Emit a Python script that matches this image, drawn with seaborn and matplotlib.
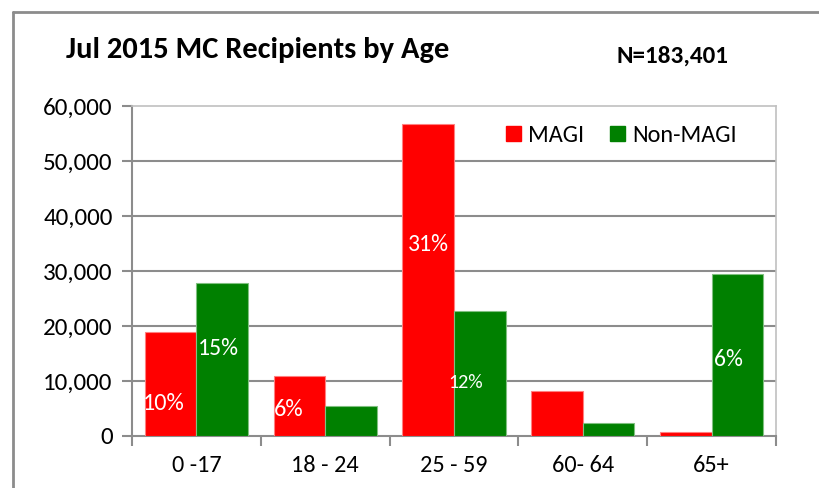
import matplotlib
matplotlib.use("Agg")
import matplotlib.pyplot as plt
import matplotlib.colors as mcolors
from matplotlib.lines import Line2D
from matplotlib.ticker import FuncFormatter, FixedLocator
import seaborn as sns
import pandas as pd

# ---- data ----
age_groups = ["0 -17", "18 - 24", "25 - 59", "60- 64", "65+"]
series_names = ["MAGI", "Non-MAGI"]
magi = [19000, 10900, 56700, 8100, 700]
non_magi = [27800, 5450, 22700, 2350, 29400]
title = "Jul 2015 MC Recipients by Age"
n_text = "N=183,401"
y_ticks = [0, 10000, 20000, 30000, 40000, 50000, 60000]

# percentage labels: (text, category index, series)
pct_labels = [("10%", 0, "MAGI"), ("15%", 0, "Non-MAGI"), ("6%", 1, "MAGI"),
              ("31%", 2, "MAGI"), ("12%", 2, "Non-MAGI"), ("6%", 4, "Non-MAGI")]
# label placement (layout only): x shift from bar center (category units), y position
pct_dx = [-0.052, -0.032, -0.081, 0.0, -0.107, -0.073]
pct_y = [6000, 15870, 4730, 34900, 9640, 13820]
pct_size = [17.5, 17, 17.5, 17, 14.5, 17]

colors = {"MAGI": "#FF0000", "Non-MAGI": "#008000"}

df = pd.DataFrame({
    "age": age_groups * 2,
    "series": [series_names[0]] * len(age_groups) + [series_names[1]] * len(age_groups),
    "count": magi + non_magi,
})

sns.set_theme(style="white")
plt.rcParams["font.family"] = ["Carlito", "Open Sans", "DejaVu Sans"]
plt.rcParams["text.color"] = "black"
plt.rcParams["xtick.labelcolor"] = "black"
plt.rcParams["ytick.labelcolor"] = "black"

fig = plt.figure(figsize=(8.2, 4.88), dpi=100)
ax = fig.add_axes([132 / 820, 52 / 488, 644 / 820, 330 / 488])

sns.barplot(data=df, x="age", y="count", hue="series", order=age_groups,
            hue_order=series_names, palette=colors, width=0.8, ax=ax,
            saturation=1, legend=False, zorder=3)

for p in ax.patches:
    fc = mcolors.to_rgb(p.get_facecolor())
    light = tuple(c + (1 - c) * 0.5 for c in fc)
    p.set_edgecolor(light)
    p.set_linewidth(0.8)

ax.set_ylim(0, 60000)
ax.set_xlim(-0.5, len(age_groups) - 0.5)
ax.yaxis.set_major_locator(FixedLocator(y_ticks))
ax.yaxis.set_major_formatter(FuncFormatter(lambda v, _: f"{int(v):,}"))
ax.set_xlabel("")
ax.set_ylabel("")

for v in y_ticks[1:-1]:
    ax.axhline(v, color="#8c8c8c", lw=1.5, zorder=1)

for s in ["left", "bottom"]:
    ax.spines[s].set_color("#8c8c8c")
    ax.spines[s].set_linewidth(1.5)
for s in ["top", "right"]:
    ax.spines[s].set_color("#c0c0c0")
    ax.spines[s].set_linewidth(1.2)

ax.tick_params(axis="y", which="major", length=7, width=1.5, color="#8c8c8c",
               labelsize=18, pad=7, left=True)
ax.tick_params(axis="x", which="major", length=0, labelsize=17.5, pad=14)
ax.set_xticks([i - 0.5 for i in range(len(age_groups) + 1)], minor=True)
ax.tick_params(axis="x", which="minor", length=7, width=1.5, color="#8c8c8c", bottom=True)

offs = {"MAGI": -0.2, "Non-MAGI": 0.2}
for (txt, ci, ser), dx, yy, fs in zip(pct_labels, pct_dx, pct_y, pct_size):
    ax.text(ci + offs[ser] + dx, yy, txt, color="white", fontsize=fs,
            ha="center", va="center", zorder=5)

handles = [Line2D([], [], marker="s", linestyle="", markersize=10.8,
                  markerfacecolor=colors[s], markeredgecolor=colors[s]) for s in series_names]
fig.legend(handles, series_names, loc="center left",
           bbox_to_anchor=(504 / 820, 1 - 135 / 488), bbox_transform=fig.transFigure,
           ncol=2, frameon=False, fontsize=17.5, handletextpad=0.25, columnspacing=0.95,
           handlelength=0.75, borderpad=0, borderaxespad=0)

fig.text(66 / 820, 1 - 58 / 488, title, fontsize=22, fontweight="bold",
         ha="left", va="baseline")
fig.text(617 / 820, 1 - 63 / 488, n_text, fontsize=18, fontweight="bold",
         ha="left", va="baseline")

# outer chart frame
fig.add_artist(Line2D([13 / 820, 13 / 820], [0, 1 - 12 / 488], transform=fig.transFigure,
                      color="#8c8c8c", lw=2))
fig.add_artist(Line2D([13 / 820, 1], [1 - 12 / 488, 1 - 12 / 488], transform=fig.transFigure,
                      color="#8c8c8c", lw=2))

fig.savefig("out.png", dpi=100)
